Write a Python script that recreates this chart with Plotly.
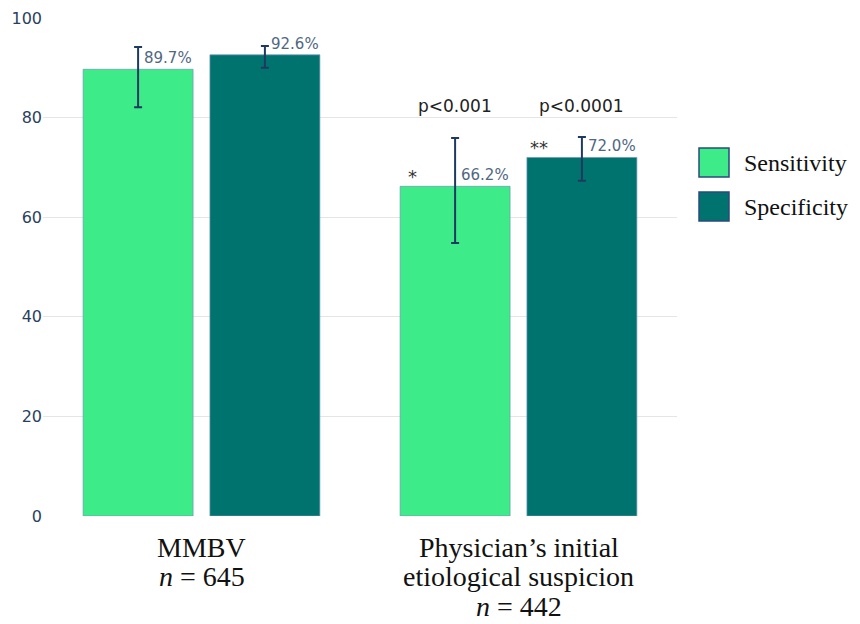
import plotly.graph_objects as go

# ---- data ----
group_lines = [["MMBV", "<i>n</i> = 645"],
               ["Physician’s initial", "etiological suspicion", "<i>n</i> = 442"]]
series_names = ["Sensitivity", "Specificity"]
sensitivity = [89.7, 66.2]
sensitivity_lo = [82.1, 54.8]
sensitivity_hi = [94.2, 75.9]
specificity = [92.6, 72.0]
specificity_lo = [90.0, 67.3]
specificity_hi = [94.4, 76.1]
sens_marks = ["", "*"]
spec_marks = ["", "**"]
p_sens = ["", "p<0.001"]
p_spec = ["", "p<0.0001"]
y_ticks = [0, 20, 40, 60, 80, 100]

colors = ["#3DEB88", "#00736E"]
err_color = "#1F3A60"
label_color = "#506784"
tick_color = "#2A3F5F"

W, H = 860, 624
OFF = 8  # page body margin
ML, MR, MT, MB = 43 - OFF, 183 + OFF, 18 - OFF, 108 + OFF
pw = W - ML - MR
ph = H - MT - MB


def px_x(x):
    return (x - OFF - ML) / pw


def px_y(y):
    return (H - MB + OFF - y) / ph


xs = list(range(len(group_lines)))
fig = go.Figure()
series = [
    (series_names[0], sensitivity, sensitivity_lo, sensitivity_hi, colors[0]),
    (series_names[1], specificity, specificity_lo, specificity_hi, colors[1]),
]
for name, vals, lo, hi, col in series:
    fig.add_trace(go.Bar(
        x=xs, y=vals, name=name,
        marker=dict(color=col, line=dict(color="rgba(110,150,185,0.7)", width=1)),
        error_y=dict(type="data", symmetric=False,
                     array=[h - v for h, v in zip(hi, vals)],
                     arrayminus=[v - l for v, l in zip(vals, lo)],
                     color=err_color, thickness=2, width=4),
        showlegend=False,
    ))

bargap, bargroupgap = 0.2, 0.133
slot = (1 - bargap) / 2
half_bar = slot * (1 - bargroupgap) / 2
offsets = [-slot / 2, slot / 2]

annotations = []
for si, (name, vals, lo, hi, col) in enumerate(series):
    marks = sens_marks if si == 0 else spec_marks
    pv = p_sens if si == 0 else p_spec
    for i, v in enumerate(vals):
        xc = xs[i] + offsets[si]
        annotations.append(dict(x=xc, y=v, xref="x", yref="y", text=f"{v:.1f}%",
                                showarrow=False, xanchor="left", yanchor="bottom",
                                xshift=4, yshift=0,
                                font=dict(family="DejaVu Sans", size=15, color=label_color)))
        if marks[i]:
            annotations.append(dict(x=xc - half_bar, y=v, xref="x", yref="y", text=marks[i],
                                    showarrow=False, xanchor="center", yanchor="bottom",
                                    xshift=12, yshift=-3,
                                    font=dict(family="DejaVu Sans", size=18, color="#333333")))
        if pv[i]:
            annotations.append(dict(x=xc, y=80, xref="x", yref="y", text=pv[i],
                                    showarrow=False, xanchor="center", yanchor="bottom",
                                    font=dict(family="DejaVu Sans", size=17, color="#222222")))

# category labels (serif, tight line spacing)
for i, lines in enumerate(group_lines):
    for j, line in enumerate(lines):
        annotations.append(dict(x=xs[i], y=0, xref="x", yref="paper", text=line,
                                showarrow=False, xanchor="center", yanchor="middle",
                                yshift=-(31 + 29.5 * j),
                                font=dict(family="Liberation Serif", size=28, color="#111111")))

# legend
shapes = []
leg_tops = [148, 192]
for k, name in enumerate(series_names):
    t = leg_tops[k]
    shapes.append(dict(type="rect", xref="paper", yref="paper",
                       x0=px_x(699), x1=px_x(729), y0=px_y(t + 29), y1=px_y(t),
                       fillcolor=colors[k], line=dict(color="#2B4A7E", width=1.5)))
    annotations.append(dict(x=px_x(742), y=px_y(t + 15), xref="paper", yref="paper",
                            text=name, showarrow=False, xanchor="left", yanchor="middle",
                            font=dict(family="Liberation Serif", size=24, color="#111111")))

fig.update_layout(
    width=W, height=H,
    margin=dict(l=ML, r=MR, t=MT, b=MB, pad=0, autoexpand=False),
    paper_bgcolor="white", plot_bgcolor="white",
    barmode="group", bargap=bargap, bargroupgap=bargroupgap,
    xaxis=dict(range=[-0.5, 1.5], showticklabels=False, showgrid=False,
               zeroline=False, showline=False, ticks="", automargin=False),
    yaxis=dict(range=[0, 100], tickvals=y_ticks, showgrid=True, gridcolor="#E5E5E5",
               gridwidth=1, zeroline=False, showline=False, ticks="", automargin=False,
               tickfont=dict(family="DejaVu Sans", size=16, color=tick_color)),
    annotations=annotations, shapes=shapes,
    showlegend=False,
)

fig.write_html("out.html")
